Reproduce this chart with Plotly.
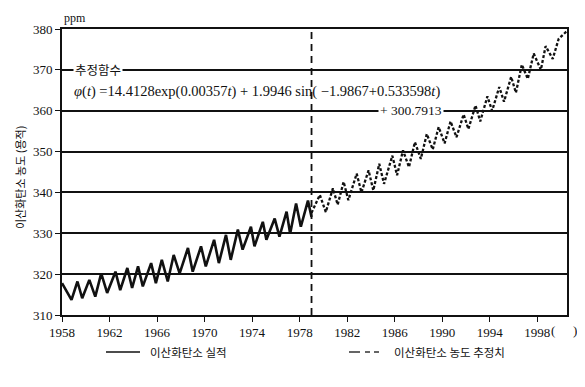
import plotly.graph_objects as go

# ---- data ----
obs_t = [1958.0, 1958.8, 1959.3, 1959.7, 1960.3, 1960.8, 1961.3, 1961.8, 1962.5, 1962.9,
         1963.5, 1963.9, 1964.4, 1964.8, 1965.5, 1965.9, 1966.4, 1966.9, 1967.4, 1967.9,
         1968.6, 1969.0, 1969.7, 1970.1, 1970.8, 1971.2, 1971.8, 1972.2, 1972.8, 1973.2,
         1973.9, 1974.2, 1974.9, 1975.2, 1975.9, 1976.3, 1976.9, 1977.2, 1977.7, 1978.1,
         1978.7, 1979.0]
obs_v = [317.8, 313.7, 318.2, 314.1, 318.6, 314.5, 320.2, 315.4, 320.6, 316.1,
         321.5, 316.6, 321.9, 317.0, 322.7, 317.8, 323.5, 318.2, 324.7, 320.2,
         326.4, 320.6, 326.8, 321.9, 328.4, 322.7, 329.6, 323.5, 330.9, 326.0,
         331.6, 326.8, 332.8, 328.4, 333.6, 329.2, 335.3, 329.9, 337.3, 331.6,
         338.0, 334.0]

est_t = [1979.0, 1979.7, 1980.2, 1980.8, 1981.2, 1981.7, 1982.1, 1982.8, 1983.2, 1983.8,
         1984.2, 1984.7, 1985.1, 1985.8, 1986.2, 1986.7, 1987.2, 1987.7, 1988.2, 1988.7,
         1989.2, 1989.7, 1990.2, 1990.7, 1991.2, 1991.8, 1992.2, 1992.8, 1993.2, 1993.8,
         1994.2, 1994.8, 1995.2, 1995.8, 1996.2, 1996.7, 1997.2, 1997.7, 1998.3, 1998.7,
         1999.3, 1999.8, 2000.5]
est_v = [335.0, 339.4, 335.2, 341.0, 337.0, 342.6, 338.1, 344.6, 340.0, 345.4,
         340.5, 347.0, 342.1, 349.0, 344.2, 350.3, 346.2, 352.3, 348.2, 354.3,
         350.5, 356.0, 352.0, 357.4, 353.5, 359.1, 355.5, 361.3, 357.4, 363.5,
         360.0, 365.8, 362.2, 368.3, 364.4, 371.3, 367.8, 374.0, 370.0, 375.8,
         372.7, 377.6, 379.5]

x_ticks = [1958, 1962, 1966, 1970, 1974, 1978, 1982, 1986, 1990, 1994, 1998]
y_ticks = [310, 320, 330, 340, 350, 360, 370, 380]
split_year = 1979

name_obs = "이산화탄소 실적"
name_est = "이산화탄소 농도 추정치"
y_title = "이산화탄소 농도 (용적)"
func_label = "추정함수"
formula1 = "<i>φ</i>(<i>t</i>) =14.4128exp(0.00357<i>t</i>) + 1.9946 sin( −1.9867+0.533598<i>t</i>)"
formula2 = "+ 300.7913"

SERIF = "Liberation Serif"
KR = "Noto Sans CJK KR"

# page body has an 8px margin: figure drawn 8px shifted
OFF = 8
W, H = 585 - OFF, 387 - OFF
# plot area in reference pixels
L, R, T, B = 62, 567, 29, 315
def px(x):
    return (x - L) / (R - L)
def py(y):
    return (B - y) / (B - T)

fig = go.Figure()
fig.add_trace(go.Scatter(x=obs_t, y=obs_v, mode="lines", name=name_obs,
                         line=dict(color="#111", width=2.6)))
fig.add_trace(go.Scatter(x=est_t, y=est_v, mode="lines", name=name_est,
                         line=dict(color="#111", width=2.3, dash="3px,2px")))

shapes = []
shapes.append(dict(type="line", xref="x", yref="paper", x0=split_year, x1=split_year,
                   y0=0, y1=1, line=dict(color="#111", width=1.8, dash="7px,5px")))
ly = py(352)
shapes.append(dict(type="line", xref="paper", yref="paper", x0=px(106), x1=px(140),
                   y0=ly, y1=ly, line=dict(color="#111", width=1.3)))
for a, b in [(349, 360), (365, 370), (374, 379)]:
    shapes.append(dict(type="line", xref="paper", yref="paper", x0=px(a), x1=px(b),
                       y0=ly, y1=ly, line=dict(color="#111", width=1.3)))

ann = []
ann.append(dict(text="ppm", xref="paper", yref="paper", x=px(62), y=py(9),
                xanchor="left", yanchor="top", showarrow=False,
                font=dict(family=SERIF, size=12, color="#111")))
ann.append(dict(text="(", xref="paper", yref="paper", x=px(553), y=py(330),
                xanchor="center", yanchor="middle", showarrow=False,
                font=dict(family=SERIF, size=13, color="#111")))
ann.append(dict(text=")", xref="paper", yref="paper", x=px(575), y=py(330),
                xanchor="center", yanchor="middle", showarrow=False,
                font=dict(family=SERIF, size=13, color="#111")))
ann.append(dict(text=y_title, xref="paper", yref="paper", x=px(20), y=py(178),
                xanchor="center", yanchor="middle", showarrow=False, textangle=-90,
                font=dict(family=KR, size=11, color="#111")))
ann.append(dict(text=func_label, xref="paper", yref="y", x=px(73), y=370,
                xanchor="left", yanchor="middle", showarrow=False, bgcolor="white",
                font=dict(family=KR, size=12.5, color="#111")))
ann.append(dict(text=formula1, xref="paper", yref="paper", x=px(72), y=py(91),
                xanchor="left", yanchor="middle", showarrow=False,
                font=dict(family=SERIF, size=14.5, color="#111")))
ann.append(dict(text=formula2, xref="paper", yref="y", x=px(378), y=360,
                xanchor="left", yanchor="middle", showarrow=False, bgcolor="white",
                font=dict(family=SERIF, size=13.5, color="#111")))
ann.append(dict(text=name_obs, xref="paper", yref="paper", x=px(148), y=ly,
                xanchor="left", yanchor="middle", showarrow=False,
                font=dict(family=KR, size=11.5, color="#111")))
ann.append(dict(text=name_est, xref="paper", yref="paper", x=px(392), y=ly,
                xanchor="left", yanchor="middle", showarrow=False,
                font=dict(family=KR, size=11.5, color="#111")))

fig.update_layout(
    width=W, height=H,
    margin=dict(l=L - OFF, r=W - (R - OFF), t=T - OFF, b=H - (B - OFF)),
    paper_bgcolor="white", plot_bgcolor="white",
    showlegend=False,
    shapes=shapes, annotations=ann,
    xaxis=dict(range=[1958, 2000.5], tickvals=x_ticks, showgrid=False, zeroline=False,
               showline=True, linecolor="#111", linewidth=1.6, mirror=True,
               ticks="outside", ticklen=5, tickcolor="#111", tickwidth=1.3,
               tickfont=dict(family=SERIF, size=13, color="#111")),
    yaxis=dict(range=[310, 380], tickvals=y_ticks, showgrid=True, gridcolor="#111",
               gridwidth=1.5, zeroline=False,
               showline=True, linecolor="#111", linewidth=1.6, mirror=True,
               ticks="outside", ticklen=5, tickcolor="#111", tickwidth=1.3,
               tickfont=dict(family=SERIF, size=13, color="#111")),
)

fig.write_html("out.html")
